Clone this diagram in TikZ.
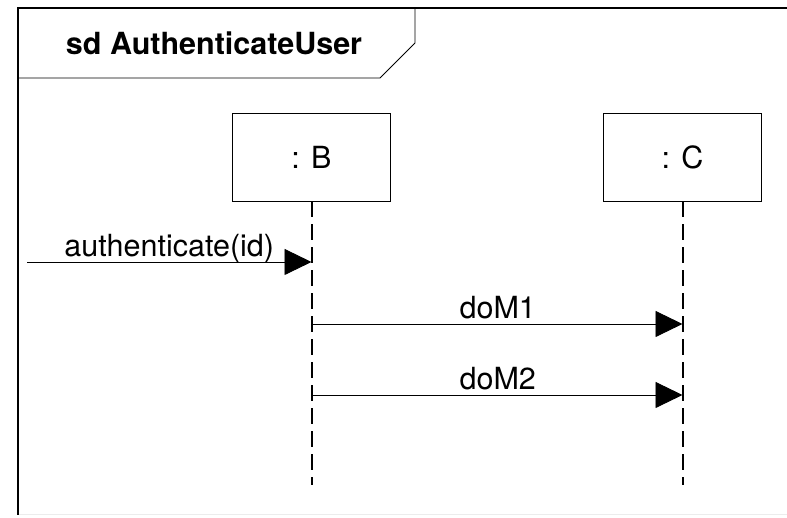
\documentclass[tikz,border=0pt]{standalone}
\usepackage{fontspec}
\setmainfont{TeX Gyre Heros}
\usetikzlibrary{
  arrows.meta,
  positioning,
  calc
}
\tikzset{>={Triangle[length=27pt, width=26pt]}}
\tikzset{lifehead/.style={draw, line width=0.8pt, minimum width=158pt,
    minimum height=88pt, font=\fontsize{30.5}{36}\selectfont}}
\tikzset{lifeline/.style={line width=2pt, dash pattern=on 16pt off 7pt}}
\tikzset{msg/.style={->, line width=0.9pt}}
\tikzset{msglabel/.style={anchor=base, yshift=5pt, inner sep=0pt,
    font=\fontsize{30.5}{36}\selectfont}}

\begin{document}
\begin{tikzpicture}[x=1pt, y=1pt]
  \useasboundingbox (0,0) rectangle (787,518);
  % frame and name tab
  \draw[gray!15, line width=1pt] (18,3) -- (787,3); %
  \draw[line width=1.5pt] (18,3) -- (18,510) -- (787,510); %
  \draw[line width=0.8pt] (18,440) -- (380,440) -- (415,475) -- (415,510); %
  \node[font=\bfseries\fontsize{30.5}{36}\selectfont] (title) at (214,475) {sd AuthenticateUser};
  % lifelines
  \node[lifehead] (B) at (311.5,361) {: B};
  \node[lifehead] (C) at (682.5,361) {: C};
  \coordinate (Bend) at (311.5,33);
  \coordinate (Cend) at (682.5,33);
  \draw[lifeline] (B.south) -- (Bend); %
  \draw[lifeline] (C.south) -- (Cend); %
  % messages
  \coordinate (found) at (27,256);
  \coordinate (Bin) at (311.5,256);
  \coordinate (Bm1) at (313,194);
  \coordinate (Cm1) at (682.5,194);
  \coordinate (Bm2) at (313,123);
  \coordinate (Cm2) at (682.5,123);
  \draw[msg] (found) -- node[msglabel]{authenticate(id)} (Bin); %
  \draw[msg] (Bm1) -- node[msglabel]{doM1} (Cm1); %
  \draw[msg] (Bm2) -- node[msglabel]{doM2} (Cm2); %
\end{tikzpicture}
\end{document}
